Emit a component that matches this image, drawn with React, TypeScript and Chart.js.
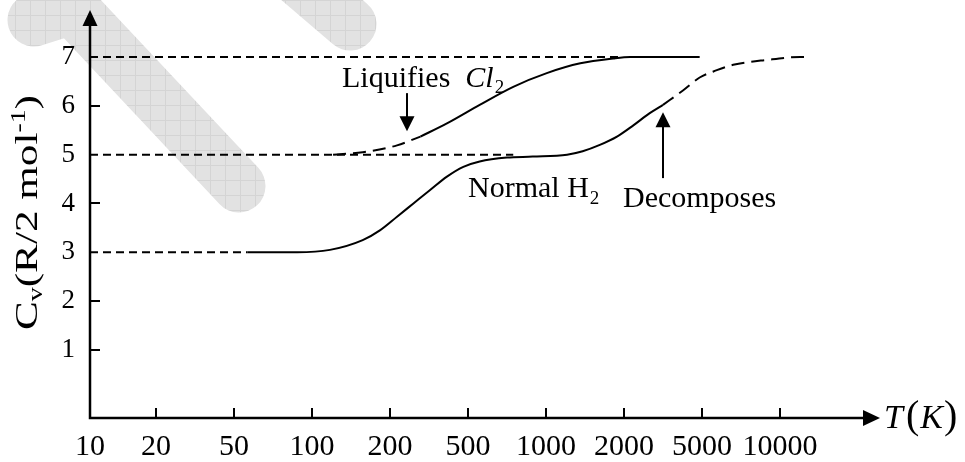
import React, { useEffect, useRef } from 'react';
import { Chart, registerables } from 'chart.js';

Chart.register(...registerables);

// ---- data (x is the position on the equal-spaced temperature axis: 20 K = 1, 50 K = 2, ... 10000 K = 9) ----
const xTickLabels = ['10', '20', '50', '100', '200', '500', '1000', '2000', '5000', '10000'];
const xTickPositions = [0.154, 1, 2, 3, 4, 5, 6, 7, 8, 9];
const yTickValues = [1, 2, 3, 4, 5, 6, 7];
const yTickMarks = [1, 2, 4, 6];

const referenceLevels = [3, 5, 7];
const referenceEnds = [2.17, 5.58, 6.95];

const h2Solid: [number, number][] = [
  [2.17, 3.0], [2.81, 3.0], [3.23, 3.05], [3.65, 3.25], [3.87, 3.45], [4.09, 3.73],
  [4.3, 4.0], [4.51, 4.27], [4.73, 4.55], [4.94, 4.75], [5.15, 4.86], [5.5, 4.94],
  [5.83, 4.96], [6.27, 5.0], [6.47, 5.07], [6.69, 5.2], [6.91, 5.37], [7.12, 5.6],
  [7.33, 5.85], [7.5, 6.02],
];
const h2Dashed: [number, number][] = [
  [7.5, 6.02], [7.76, 6.32], [7.97, 6.58], [8.19, 6.73], [8.4, 6.84], [8.83, 6.94],
  [9.26, 7.0], [9.35, 7.0],
];
const cl2Dashed: [number, number][] = [
  [3.27, 5.0], [3.65, 5.05], [4.09, 5.19], [4.39, 5.37],
];
const cl2Solid: [number, number][] = [
  [4.39, 5.37], [4.73, 5.64], [5.15, 6.02], [5.58, 6.39], [6.01, 6.67], [6.44, 6.87],
  [6.86, 6.97], [7.08, 7.0], [7.97, 7.0],
];

// annotation anchors in data units
const liquifiesAnchor = { x: 3.385, y: 6.385 };
const liquifiesArrow = { x: 4.218, from: 6.26, to: 5.48 };
const normalAnchor = { x: 5.0, y: 4.13 };
const decomposesAnchor = { x: 6.987, y: 3.93 };
const decomposesArrow = { x: 7.5, from: 4.52, to: 5.87 };

const X_MIN = 0.1538;
const X_MAX = 10.282;
const Y_MIN = -0.3926;
const Y_MAX = 7.9625;

const SERIF = '"Liberation Serif", "Times New Roman", serif';

type Run = { t: string; font: string; dy?: number; dx?: number };

function runsWidth(ctx: CanvasRenderingContext2D, runs: Run[]) {
  let w = 0;
  for (const r of runs) {
    ctx.font = r.font;
    w += (r.dx || 0) + ctx.measureText(r.t).width;
  }
  return w;
}

function drawRuns(ctx: CanvasRenderingContext2D, x: number, y: number, runs: Run[]) {
  let cx = x;
  ctx.textAlign = 'left';
  ctx.textBaseline = 'alphabetic';
  for (const r of runs) {
    ctx.font = r.font;
    cx += r.dx || 0;
    ctx.fillText(r.t, cx, y + (r.dy || 0));
    cx += ctx.measureText(r.t).width;
  }
}

function makePattern(ctx: CanvasRenderingContext2D) {
  const c = document.createElement('canvas');
  c.width = 15;
  c.height = 15;
  const p = c.getContext('2d')!;
  p.fillStyle = '#e2e2e2';
  p.fillRect(0, 0, 15, 15);
  p.strokeStyle = '#d4d4d4';
  p.lineWidth = 1;
  p.beginPath();
  p.moveTo(0.5, 0);
  p.lineTo(0.5, 15);
  p.moveTo(0, 0.5);
  p.lineTo(15, 0.5);
  p.stroke();
  return ctx.createPattern(c, 'repeat');
}

const decorPlugin = {
  id: 'decor',
  beforeDraw(chart: any) {
    const ctx: CanvasRenderingContext2D = chart.ctx;
    ctx.save();
    ctx.strokeStyle = makePattern(ctx) || '#e2e2e2';
    ctx.lineWidth = 53;
    ctx.lineCap = 'round';
    ctx.lineJoin = 'round';
    ctx.beginPath();
    ctx.moveTo(34, 20);
    ctx.lineTo(72, 8);
    ctx.lineTo(239, 186);
    ctx.stroke();
    ctx.beginPath();
    ctx.moveTo(350, 24);
    ctx.lineTo(280, -36);
    ctx.stroke();
    ctx.restore();
  },
  afterDraw(chart: any) {
    const ctx: CanvasRenderingContext2D = chart.ctx;
    const xs = chart.scales.x;
    const ys = chart.scales.y;
    const area = chart.chartArea;
    const ox = area.left;
    const oy = area.bottom;
    ctx.save();
    ctx.strokeStyle = '#000';
    ctx.fillStyle = '#000';
    ctx.lineWidth = 2.5;
    ctx.lineCap = 'butt';

    // axes
    ctx.beginPath();
    ctx.moveTo(ox, oy + 1.25);
    ctx.lineTo(ox, area.top + 14);
    ctx.moveTo(ox - 1.25, oy);
    ctx.lineTo(area.right - 14, oy);
    ctx.stroke();
    // arrow heads
    ctx.beginPath();
    ctx.moveTo(ox, area.top);
    ctx.lineTo(ox - 7.5, area.top + 16);
    ctx.lineTo(ox + 7.5, area.top + 16);
    ctx.closePath();
    ctx.fill();
    ctx.beginPath();
    ctx.moveTo(area.right, oy);
    ctx.lineTo(area.right - 17, oy - 8);
    ctx.lineTo(area.right - 17, oy + 8);
    ctx.closePath();
    ctx.fill();

    // tick marks
    ctx.lineWidth = 2;
    ctx.beginPath();
    for (let i = 1; i < xTickPositions.length; i++) {
      const px = Math.round(xs.getPixelForValue(xTickPositions[i]));
      ctx.moveTo(px, oy);
      ctx.lineTo(px, oy - 10);
    }
    for (const v of yTickMarks) {
      const py = Math.round(ys.getPixelForValue(v));
      ctx.moveTo(ox, py);
      ctx.lineTo(ox + 10, py);
    }
    ctx.stroke();

    // annotation arrows
    const drawArrow = (a: { x: number; from: number; to: number }) => {
      const px = xs.getPixelForValue(a.x);
      const p0 = ys.getPixelForValue(a.from);
      const p1 = ys.getPixelForValue(a.to);
      const dir = p1 > p0 ? 1 : -1;
      ctx.lineWidth = 2;
      ctx.beginPath();
      ctx.moveTo(px, p0);
      ctx.lineTo(px, p1 - dir * 12);
      ctx.stroke();
      ctx.beginPath();
      ctx.moveTo(px, p1);
      ctx.lineTo(px - 7.5, p1 - dir * 15);
      ctx.lineTo(px + 7.5, p1 - dir * 15);
      ctx.closePath();
      ctx.fill();
    };
    drawArrow(liquifiesArrow);
    drawArrow(decomposesArrow);

    // annotation texts
    drawRuns(ctx, xs.getPixelForValue(liquifiesAnchor.x), ys.getPixelForValue(liquifiesAnchor.y), [
      { t: 'Liquifies', font: `30px ${SERIF}` },
      { t: 'Cl', font: `italic 30px ${SERIF}`, dx: 15 },
      { t: '2', font: `19px ${SERIF}`, dy: 6, dx: 1 },
    ]);
    drawRuns(ctx, xs.getPixelForValue(normalAnchor.x), ys.getPixelForValue(normalAnchor.y), [
      { t: 'Normal H', font: `30px ${SERIF}` },
      { t: '2', font: `19px ${SERIF}`, dy: 7, dx: 1 },
    ]);
    drawRuns(ctx, xs.getPixelForValue(decomposesAnchor.x), ys.getPixelForValue(decomposesAnchor.y), [
      { t: 'Decomposes', font: `30px ${SERIF}` },
    ]);

    // x axis title T(K)
    drawRuns(ctx, area.right + 4, oy + 10, [
      { t: 'T', font: `italic 34px ${SERIF}` },
      { t: '(', font: `40px ${SERIF}`, dx: 3 },
      { t: 'K', font: `italic 34px ${SERIF}`, dx: 1 },
      { t: ')', font: `40px ${SERIF}`, dx: 1 },
    ]);

    // y axis title (elongated along its length like the original)
    const yTitle: Run[] = [
      { t: 'C', font: `31px ${SERIF}` },
      { t: 'v', font: `20px ${SERIF}`, dy: 5 },
      { t: '(R/2 mol', font: `31px ${SERIF}` },
      { t: '-1', font: `20px ${SERIF}`, dy: -12 },
      { t: ')', font: `31px ${SERIF}` },
    ];
    const natural = runsWidth(ctx, yTitle);
    ctx.save();
    ctx.translate(37, 330);
    ctx.rotate(-Math.PI / 2);
    ctx.scale(235 / natural, 1);
    drawRuns(ctx, 0, 0, yTitle);
    ctx.restore();

    ctx.restore();
  },
};

function lineSet(points: [number, number][], dash: number[]) {
  return {
    data: points.map(([x, y]) => ({ x, y })),
    borderColor: '#000',
    borderWidth: 2,
    borderDash: dash,
    pointRadius: 0,
    fill: false,
    tension: 0.4,
    cubicInterpolationMode: 'monotone' as const,
  };
}

export default function App() {
  const ref = useRef<HTMLCanvasElement>(null);

  useEffect(() => {
    if (!ref.current) return;
    const refSets = referenceLevels.map((lvl, i) =>
      lineSet([[X_MIN, lvl], [referenceEnds[i], lvl]], [8, 5])
    );
    const chart = new Chart(ref.current, {
      type: 'line',
      data: {
        datasets: [
          ...refSets,
          lineSet(h2Solid, []),
          lineSet(h2Dashed, [13, 7]),
          lineSet(cl2Dashed, [13, 7]),
          lineSet(cl2Solid, []),
        ] as any,
      },
      options: {
        responsive: false,
        animation: false,
        events: [],
        layout: { padding: { left: 0, top: 10, right: 85, bottom: 0 } },
        plugins: { legend: { display: false }, tooltip: { enabled: false } },
        scales: {
          x: {
            type: 'linear',
            min: X_MIN,
            max: X_MAX,
            grid: { display: false, drawTicks: false },
            border: { display: false },
            afterBuildTicks: (s: any) => {
              s.ticks = xTickPositions.map((v) => ({ value: v }));
            },
            afterFit: (s: any) => {
              s.height = 44;
              s.paddingLeft = 0;
              s.paddingRight = 0;
            },
            ticks: {
              autoSkip: false,
              maxRotation: 0,
              minRotation: 0,
              padding: 11,
              color: '#000',
              font: { family: SERIF, size: 30 },
              callback: (v: any) => {
                const i = xTickPositions.findIndex((p) => Math.abs(p - Number(v)) < 1e-6);
                return i >= 0 ? xTickLabels[i] : '';
              },
            },
          },
          y: {
            type: 'linear',
            min: Y_MIN,
            max: Y_MAX,
            grid: { display: false, drawTicks: false },
            border: { display: false },
            afterBuildTicks: (s: any) => {
              s.ticks = yTickValues.map((v) => ({ value: v }));
            },
            afterFit: (s: any) => {
              s.width = 90;
              s.paddingTop = 0;
              s.paddingBottom = 0;
            },
            ticks: {
              padding: 15,
              color: '#000',
              font: { family: SERIF, size: 27 },
              callback: (v: any) => String(v),
            },
          },
        },
      },
      plugins: [decorPlugin],
    });
    return () => chart.destroy();
  }, []);

  return (
    <div style={{ position: 'absolute', left: 0, top: 0, width: 965, height: 462, background: '#fff' }}>
      <canvas ref={ref} width={965} height={462} style={{ display: 'block' }} />
    </div>
  );
}
